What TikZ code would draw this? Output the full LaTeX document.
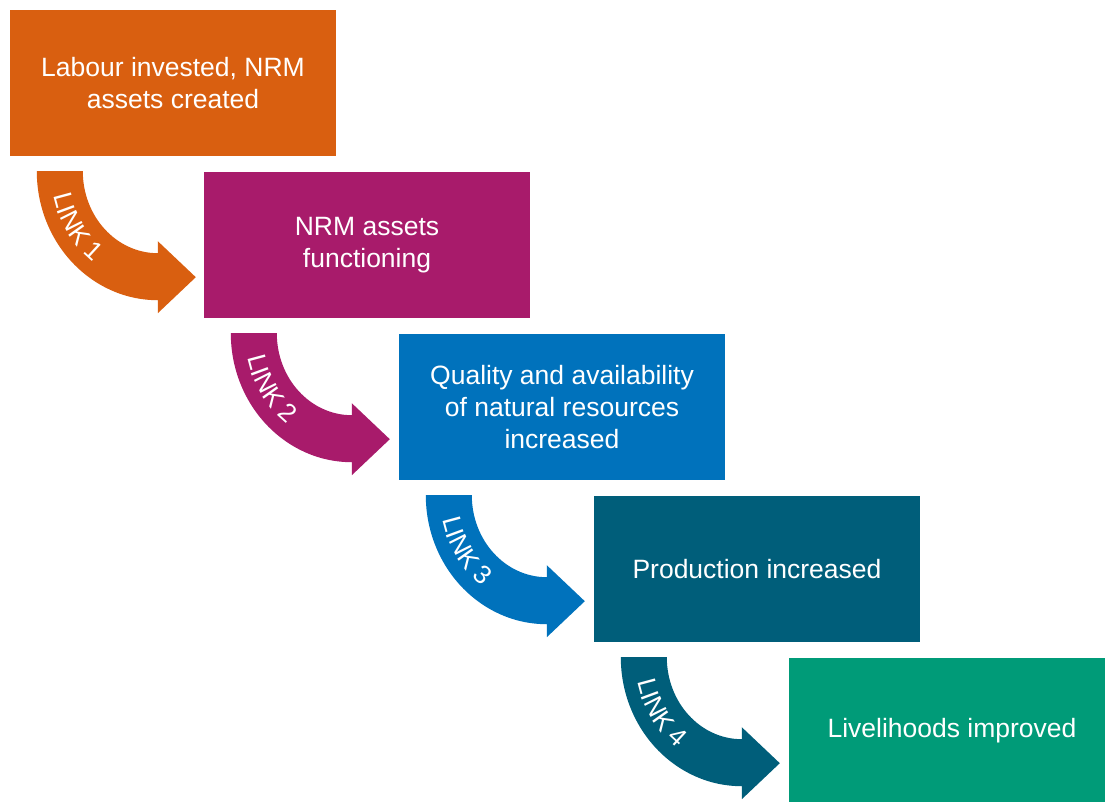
\documentclass[tikz,border=0pt]{standalone}
\usepackage{fontspec}
\setmainfont{Liberation Sans}
\usetikzlibrary{calc, decorations.text}

\definecolor{nrmorange}{RGB}{217,95,16}
\definecolor{nrmpurple}{RGB}{168,27,107}
\definecolor{nrmblue}{RGB}{0,114,188}
\definecolor{nrmteal}{RGB}{0,94,122}
\definecolor{nrmgreen}{RGB}{0,155,120}

\newcommand{\linkfont}{\fontsize{26}{26}\selectfont}

\tikzset{
  stage/.style={fill=#1, text=white, minimum width=326pt, minimum height=146pt,
    inner sep=0pt, align=center, font=\fontsize{26.5}{32}\selectfont},
}

% curved arrow hanging under a stage box: #1 box, #2 colour, #3 label
\newcommand{\linkarrow}[3]{%
  \coordinate (C) at ($(#1.south west)+(148,-15)$);
  \fill[#2] ($(C)+(-121,0)$) arc[start angle=180, end angle=270, x radius=121pt, y radius=129pt]
    -- ++(0,-13) -- ($(C)+(38,-106)$) -- ($(C)+(0,-70)$) -- ($(C)+(0,-82)$)
    arc[start angle=270, end angle=180, x radius=75pt, y radius=82pt] -- cycle;
  \path[decorate, decoration={text along path, text align=center, text color=white,
      text={|\linkfont|#3}}]
    ($(C)+(-107,0)$) arc[start angle=180, end angle=246, x radius=107pt, y radius=114pt];
}

\begin{document}
\begin{tikzpicture}[x=1pt,y=1pt]
  \useasboundingbox (0,0) rectangle (1105,801);
  \clip (0,0) rectangle (1105,801);

  % the five stages, stepping down to the right
  \node[stage=nrmorange] (labour) at (173,718) {Labour invested, NRM\\assets created};
  \node[stage=nrmpurple] (assets) at (367,556) {NRM assets\\functioning};
  \node[stage=nrmblue] (quality) at (562,394) {Quality and availability\\of natural resources\\increased};
  \node[stage=nrmteal] (production) at (757,232) {Production increased};
  \node[stage=nrmgreen] (livelihoods) at (952,70) {Livelihoods improved};

  % links between the stages
  \linkarrow{labour}{nrmorange}{LINK 1}
  \linkarrow{assets}{nrmpurple}{LINK 2}
  \linkarrow{quality}{nrmblue}{LINK 3}
  \linkarrow{production}{nrmteal}{LINK 4}
\end{tikzpicture}
\end{document}
